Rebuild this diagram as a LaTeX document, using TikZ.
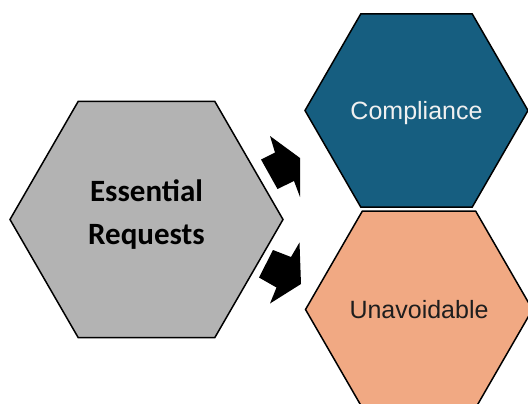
\documentclass[tikz,border=0pt]{standalone}
\usepackage{fontspec}
\setmainfont{Liberation Sans}
\newfontfamily\calfont{Carlito}
\usetikzlibrary{shapes.geometric}

\definecolor{hexgray}{RGB}{179,179,179}
\definecolor{hexblue}{RGB}{22,94,128}
\definecolor{hexsalmon}{RGB}{241,169,131}
\definecolor{darktext}{RGB}{30,30,30}

\tikzset{
  hexcell/.style={regular polygon, regular polygon sides=6, draw=black,
    line width=1.5pt, inner sep=0pt, align=center},
  blockarrow/.style={fill=black}
}

\begin{document}
\begin{tikzpicture}[x=1pt,y=-1pt]
  \useasboundingbox (0,0) rectangle (528,404);

  % source cell (extra depth lifts the two lines slightly)
  \node[hexcell, fill=hexgray, minimum size=273pt,
        font=\calfont\bfseries\fontsize{31}{43}\selectfont, text=black]
    (req) at (146.5,219.5) {Essential\\Requests\rule[-14pt]{0pt}{14pt}};

  % target cells
  \node[hexcell, fill=hexblue, minimum size=223pt, text depth=0pt,
        font=\fontsize{25}{30}\selectfont, text=white!94!black]
    (comp) at (416.5,110.5) {Compliance};
  \node[hexcell, fill=hexsalmon, minimum size=224pt,
        font=\fontsize{25}{30}\selectfont, text=darktext]
    (unav) at (419,309.5) {Unavoidable};

  % block arrows between the cells
  \fill[blockarrow] (270,136) -- (300,158) -- (300,197) -- (294,181)
    -- (277.5,189) -- (261,159.5) -- (275,152.5) -- cycle;
  \fill[blockarrow] (259,277.5) -- (273,250) -- (291,257) -- (299.5,242.5)
    -- (301,284) -- (270,303.5) -- (276.5,287.5) -- cycle;
\end{tikzpicture}
\end{document}
